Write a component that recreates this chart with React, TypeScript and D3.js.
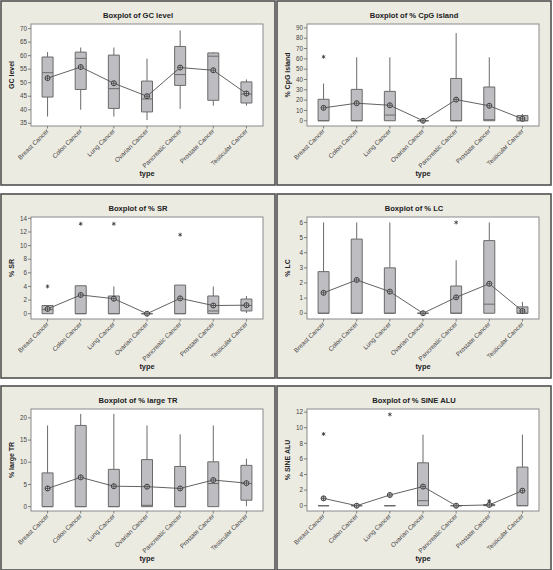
import React from "react";
import * as d3 from "d3";

const categories = [
  "Breast Cancer",
  "Colon Cancer",
  "Lung Cancer",
  "Ovarian Cancer",
  "Pancreatic Cancer",
  "Prostate Cancer",
  "Testicular Cancer",
];

// GC level
const gcLow = [37.5, 40, 37.5, 36.2, 40.3, 41.5, 41.5];
const gcQ1 = [44.7, 47.5, 40.5, 39.2, 49, 43.5, 42.5];
const gcMed = [53.7, 59, 47.8, 44, 53, 59.8, 45.8];
const gcQ3 = [59.5, 61.3, 60.2, 50.6, 63.4, 61, 50.3];
const gcHigh = [61.3, 63, 63, 58.9, 69.3, 61.3, 51.2];
const gcMean = [51.7, 55.8, 49.8, 45, 55.6, 54.6, 46];
const gcOut: number[][] = [[], [], [], [], [], [], []];
const gcTicks = [35, 40, 45, 50, 55, 60, 65, 70];
const gcDomain = [34, 71.7];

// % CpG island
const cpgLow = [0, 0, 0, 0, 0, 0, 0];
const cpgQ1 = [0, 0, 0, 0, 0, 0, 0];
const cpgMed = [0, 0, 5.5, 0, 0, 1, 0];
const cpgQ3 = [20.8, 30.4, 28.5, 0, 41, 32.7, 5];
const cpgHigh = [36, 61.5, 61.5, 0, 85, 61.5, 6.5];
const cpgMean = [12.5, 17, 15, 0, 20.5, 14.5, 1.8];
const cpgOut: number[][] = [[62], [], [], [], [], [], []];
const cpgTicks = [0, 10, 20, 30, 40, 50, 60, 70, 80, 90];
const cpgDomain = [-5.1, 93.8];

// % SR
const srLow = [0, 0, 0, 0, 0, 0, 0.1];
const srQ1 = [0, 0, 0, 0, 0, 0, 0.4];
const srMed = [0.6, 0, 0, 0, 0, 0.4, 1.2];
const srQ3 = [1.2, 4.1, 2.6, 0, 4.2, 2.6, 2.15];
const srHigh = [1.2, 4.1, 4, 0, 4.2, 4, 2.6];
const srMean = [0.7, 2.75, 2.2, 0, 2.25, 1.2, 1.25];
const srOut: number[][] = [[4], [13.2], [13.2], [], [11.6], [], []];
const srTicks = [0, 2, 4, 6, 8, 10, 12, 14];
const srDomain = [-0.78, 14.2];

// % LC
const lcLow = [0, 0, 0, 0, 0, 0, 0];
const lcQ1 = [0, 0, 0, 0, 0, 0, 0];
const lcMed = [0, 0, 0, 0, 0, 0.6, 0];
const lcQ3 = [2.75, 4.9, 3, 0, 1.8, 4.8, 0.42];
const lcHigh = [6, 6, 6, 0, 3.5, 6, 0.75];
const lcMean = [1.35, 2.2, 1.43, 0, 1.05, 1.95, 0.15];
const lcOut: number[][] = [[], [], [], [], [6], [], []];
const lcTicks = [0, 1, 2, 3, 4, 5, 6];
const lcDomain = [-0.38, 6.36];

// % large TR
const trLow = [0, 0, 0, 0, 0, 0, 0.1];
const trQ1 = [0, 0, 0, 0, 0, 0, 1.45];
const trMed = [0, 0, 0, 0.3, 0, 5.2, 5.2];
const trQ3 = [7.6, 18.3, 8.4, 10.6, 9.05, 10.1, 9.3];
const trHigh = [18.3, 20.9, 20.9, 18.3, 16.3, 18.3, 10.8];
const trMean = [4.1, 6.6, 4.6, 4.5, 4.1, 6, 5.3];
const trOut: number[][] = [[], [], [], [], [], [], []];
const trTicks = [0, 5, 10, 15, 20];
const trDomain = [-0.98, 22];

// % SINE ALU
const aluLow = [0, 0, 0, 0, 0, 0, 0];
const aluQ1 = [0, 0, 0, 0, 0, 0, 0];
const aluMed = [0, 0, 0, 0.64, 0, 0.05, 0];
const aluQ3 = [0, 0, 0, 5.5, 0, 0.15, 4.95];
const aluHigh = [0, 0, 0, 9.1, 0, 0.2, 9.1];
const aluMean = [0.94, 0, 1.37, 2.45, 0, 0.1, 1.93];
const aluOut: number[][] = [[9.2], [], [11.7], [], [], [0.6], []];
const aluTicks = [0, 2, 4, 6, 8, 10, 12];
const aluDomain = [-0.68, 12.4];

const panels = [
  { title: "Boxplot of GC level", yLabel: "GC level", low: gcLow, q1: gcQ1, med: gcMed, q3: gcQ3, high: gcHigh, mean: gcMean, out: gcOut, ticks: gcTicks, domain: gcDomain },
  { title: "Boxplot of % CpG island", yLabel: "% CpG island", low: cpgLow, q1: cpgQ1, med: cpgMed, q3: cpgQ3, high: cpgHigh, mean: cpgMean, out: cpgOut, ticks: cpgTicks, domain: cpgDomain },
  { title: "Boxplot of % SR", yLabel: "% SR", low: srLow, q1: srQ1, med: srMed, q3: srQ3, high: srHigh, mean: srMean, out: srOut, ticks: srTicks, domain: srDomain },
  { title: "Boxplot of % LC", yLabel: "% LC", low: lcLow, q1: lcQ1, med: lcMed, q3: lcQ3, high: lcHigh, mean: lcMean, out: lcOut, ticks: lcTicks, domain: lcDomain },
  { title: "Boxplot of % large TR", yLabel: "% large TR", low: trLow, q1: trQ1, med: trMed, q3: trQ3, high: trHigh, mean: trMean, out: trOut, ticks: trTicks, domain: trDomain },
  { title: "Boxplot of % SINE ALU", yLabel: "% SINE ALU", low: aluLow, q1: aluQ1, med: aluMed, q3: aluQ3, high: aluHigh, mean: aluMean, out: aluOut, ticks: aluTicks, domain: aluDomain },
];

const W = 553;
const H = 570;
const colX = [1, 277];
const rowY = [1, 194, 386];
const PW = 274;
const PH = 184;
const plotL = 30;
const plotW = 232;
const plotT = 23;
const plotH = 102;
const boxW = 11;
const FONT = "'Liberation Sans', Arial, sans-serif";

function Panel({ p, x0, y0 }: { p: any; x0: number; y0: number }) {
  const x = d3.scalePoint<string>().domain(categories).range([plotL, plotL + plotW]).padding(0.5);
  const y = d3.scaleLinear().domain(p.domain).range([plotT + plotH, plotT]);
  const line = d3
    .line<number>()
    .x((_, i) => x(categories[i]) as number)
    .y((d) => y(d));
  return (
    <g transform={`translate(${x0},${y0})`}>
      <rect x={0} y={0} width={PW} height={PH} fill="#ecebe2" stroke="#505050" strokeWidth={1.6} />
      <rect x={plotL} y={plotT} width={plotW} height={plotH} fill="#ffffff" stroke="#8a8a8a" strokeWidth={1} />
      <text x={PW / 2} y={17} textAnchor="middle" fontFamily={FONT} fontWeight="bold" fontSize={7.6} fill="#222">
        {p.title}
      </text>
      {p.ticks.map((t: number) => (
        <g key={t}>
          <line x1={plotL - 3} x2={plotL} y1={y(t)} y2={y(t)} stroke="#666" strokeWidth={0.8} />
          <text x={plotL - 4} y={y(t) + 2.2} textAnchor="end" fontFamily={FONT} fontSize={6.3} fill="#444">
            {t}
          </text>
        </g>
      ))}
      <text
        transform={`translate(${13},${plotT + plotH / 2}) rotate(-90)`}
        textAnchor="middle"
        fontFamily={FONT}
        fontWeight="bold"
        fontSize={7}
        fill="#222"
      >
        {p.yLabel}
      </text>
      {categories.map((c) => (
        <g key={c}>
          <line x1={x(c)} x2={x(c)} y1={plotT + plotH} y2={plotT + plotH + 2.5} stroke="#666" strokeWidth={0.8} />
          <text
            transform={`translate(${(x(c) as number) + 1.5},${plotT + plotH + 5.5}) rotate(-45)`}
            textAnchor="end"
            fontFamily={FONT}
            fontSize={6.3}
            fill="#444"
          >
            {c}
          </text>
        </g>
      ))}
      <text x={plotL + plotW / 2} y={175} textAnchor="middle" fontFamily={FONT} fontWeight="bold" fontSize={7.4} fill="#222">
        type
      </text>
      {categories.map((c, i) => {
        const cx = x(c) as number;
        const yq1 = y(p.q1[i]);
        const yq3 = y(p.q3[i]);
        const boxPath = `M${cx - boxW / 2},${yq1}L${cx + boxW / 2},${yq1}L${cx + boxW / 2},${yq3}L${cx - boxW / 2},${yq3}Z`;
        return (
          <g key={c}>
            <line x1={cx} x2={cx} y1={yq3} y2={y(p.high[i])} stroke="#6a6a6a" strokeWidth={1} />
            <line x1={cx} x2={cx} y1={yq1} y2={y(p.low[i])} stroke="#6a6a6a" strokeWidth={1} />
            <path d={boxPath} fill="#bebec2" stroke="#6a6a6a" strokeWidth={1} />
            <line x1={cx - boxW / 2} x2={cx + boxW / 2} y1={y(p.med[i])} y2={y(p.med[i])} stroke="#6a6a6a" strokeWidth={1} />
            {p.out[i].map((o: number, k: number) => {
              const oy = y(o);
              const s = 2;
              return (
                <path
                  key={k}
                  d={`M${cx},${oy - s}L${cx},${oy + s}M${cx - s * 0.87},${oy - s / 2}L${cx + s * 0.87},${oy + s / 2}M${cx - s * 0.87},${oy + s / 2}L${cx + s * 0.87},${oy - s / 2}`}
                  stroke="#333"
                  strokeWidth={0.8}
                  fill="none"
                />
              );
            })}
          </g>
        );
      })}
      <path d={line(p.mean) as string} fill="none" stroke="#505050" strokeWidth={0.9} />
      {categories.map((c, i) => {
        const cx = x(c) as number;
        const my = y(p.mean[i]);
        return (
          <g key={c}>
            <circle cx={cx} cy={my} r={2.5} fill="#c8c8cc" stroke="#333" strokeWidth={0.9} />
            <path d={`M${cx - 2.5},${my}L${cx + 2.5},${my}M${cx},${my - 2.5}L${cx},${my + 2.5}`} stroke="#333" strokeWidth={0.7} />
          </g>
        );
      })}
    </g>
  );
}

export default function App() {
  return (
    <svg
      width={W}
      height={H}
      viewBox={`0 0 ${W} ${H}`}
      style={{ position: "absolute", left: 0, top: 0, display: "block", background: "#ffffff" }}
    >
      {panels.map((p, i) => (
        <Panel key={p.title} p={p} x0={colX[i % 2]} y0={rowY[Math.floor(i / 2)]} />
      ))}
    </svg>
  );
}
